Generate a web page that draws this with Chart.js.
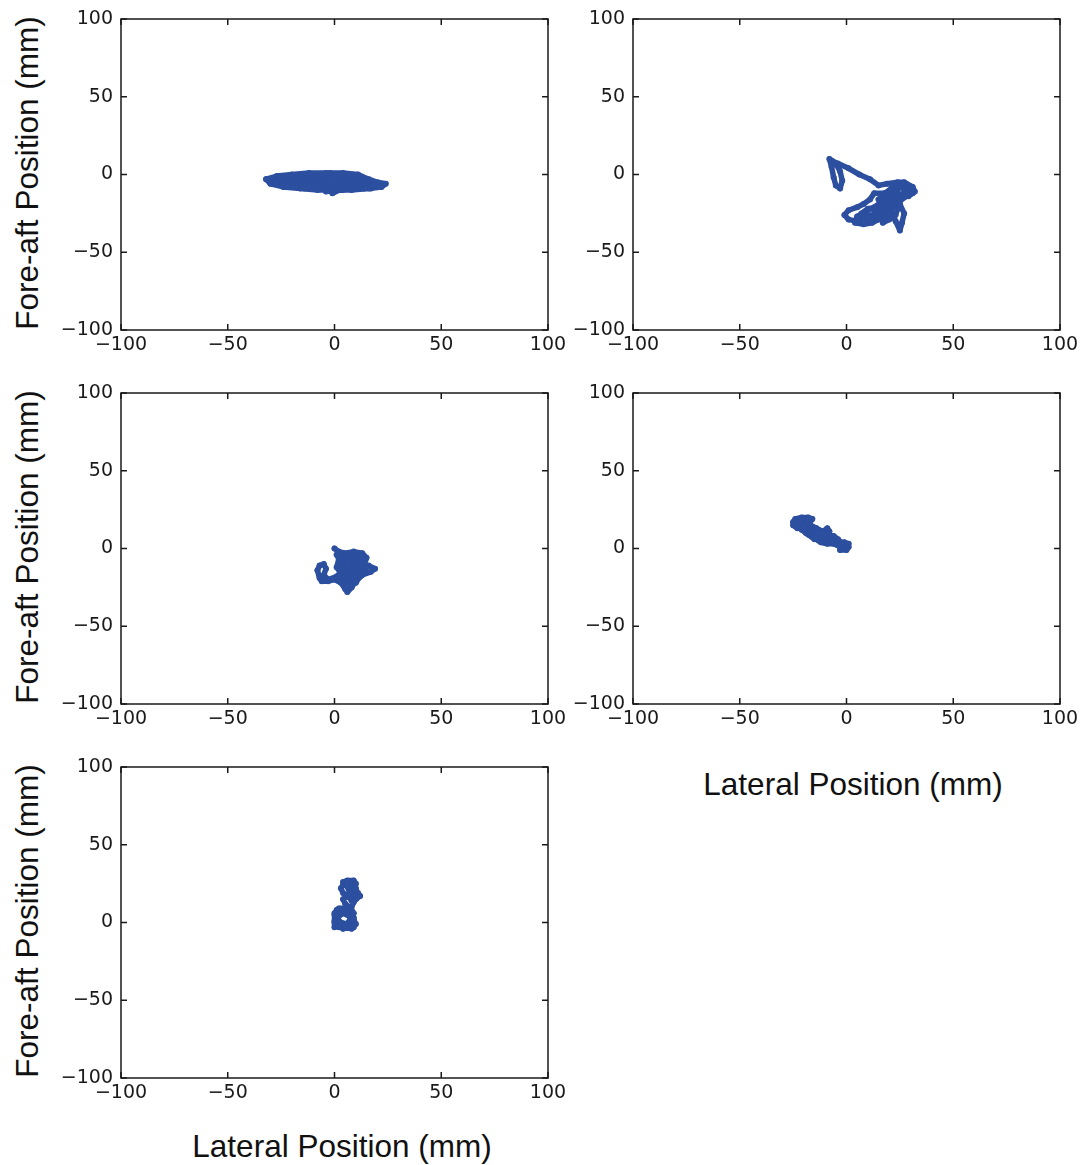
<!DOCTYPE html>
<html>
<head>
<meta charset="utf-8">
<script src="https://cdn.jsdelivr.net/npm/chart.js@4.4.1/dist/chart.umd.min.js"></script>
<style>
  body { margin: 0; background: #fff; width: 1084px; height: 1165px; position: relative; overflow: hidden; }
  canvas.panel { position: absolute; }
  .axlabel { position: absolute; font-family: "Liberation Sans", Arial, sans-serif; font-size: 31.5px; color: #111; white-space: nowrap; }
</style>
</head>
<body>
<script>
// tick values shared by both axes of every panel
const tickValues = [-100, -50, 0, 50, 100];

// panel 1 (top left)
const p1X = [-32,-27,-20,-12,-4,4,11,16,20,24,22,16,8,0,-8,-16,-24,-30,-32,-24,-16,-10,-4,2,8,13,6,-2,-1,4,10,17,21,14,6,-2,-10,-18,-25,-18,-10,-2,6,12,16,10,2,-6,-14,-6,2,10,15,8,0,-4,3,9,14,19,12,4,-3,-10,-18,-26,-30,-22,-14,-6,2,8,14,18,12,4,-4,-12,-20];
const p1Y = [-3,-1,0,1,1,1,0,-3,-5,-6,-8,-9,-10,-10,-10,-9,-8,-6,-3,-4,-6,-6,-3,-1,-2,-6,-7,-7,-12,-9,-9,-9,-8,-5,-4,-5,-8,-8,-5,-2,0,1,0,-2,-6,-8,-6,-4,-3,-1,0,-2,-5,-7,-8,-11,-10,-8,-9,-7,-3,-1,-2,-4,-3,-2,-4,-7,-9,-9,-6,-5,-4,-7,-9,-10,-8,-6,-5];

// panel 2 (top right)
const p2X = [-8,-7,-6,-5,-3,-2,-3,-5,-7,-4, 1,6,11,15,19,24,27,31,32,29, 24,18,13,11,8,5,1,-1,1,5, 8,11,13,16,19,22,25,27,26,25, 23,21,18,15,12,8,4,5,9,13, 16,19,22,26,28,25,22,19,16,13, 17,21,24,23,20,17,20,18,15,18, 21,24,27,30,27,23,20,17,14,10, 7,10,14,18,22,25,28,31];
const p2Y = [10,5,-2,-7,-9,-4,2,7,9,7, 4,0,-3,-7,-6,-5,-5,-8,-11,-14, -13,-12,-12,-16,-19,-21,-23,-26,-29,-30, -28,-29,-25,-22,-19,-16,-19,-25,-31,-36, -30,-24,-27,-29,-31,-32,-31,-27,-24,-21, -18,-14,-11,-8,-10,-14,-18,-22,-25,-27, -23,-20,-22,-26,-29,-31,-25,-20,-16,-12, -9,-7,-9,-11,-13,-12,-15,-18,-21,-22, -25,-27,-25,-23,-21,-17,-14,-12];

// panel 3 (middle left)
const p3X = [0,2,5,9,13,15,14,12,16,19, 17,13,10,8,6,5,3,0,-3,-6, -7,-8,-7,-5,-4,-5,-3,1,4,3, 1,5,9,11,8,5,3,7,11,14, 12,8,4,6,9,12,10,6,2,4, 8,13,15,11,7,2,1,3,7,10, 13,10,5];
const p3Y = [0,-2,-3,-2,-3,-6,-10,-12,-11,-13, -15,-17,-21,-25,-28,-26,-22,-20,-21,-21, -19,-14,-11,-10,-13,-17,-20,-18,-14,-9, -4,-5,-6,-9,-12,-15,-18,-20,-17,-13, -8,-5,-8,-11,-14,-18,-22,-23,-18,-13, -9,-8,-12,-16,-10,-7,-12,-16,-17,-13, -5,-3,-6];

// panel 4 (middle right)
const p4X = [-25,-24,-21,-18,-16,-17,-20,-23,-25,-23, -20,-18,-16,-18,-21,-19,-16,-13,-11,-9, -8,-10,-13,-16,-18,-15,-12,-9,-6,-8, -11,-13,-10,-7,-4,-1,1,0,-2,-3, 0,1,-2,-4,-6,-9,-12,-14,-17,-20, -22,-19,-17,-14,-12,-9,-6,-4,-2];
const p4Y = [17,19,20,20,19,17,16,15,15,13, 14,16,14,12,12,10,11,12,11,13, 11,9,9,8,9,6,6,7,6,4, 4,5,7,5,4,4,3,1,0,-1, -1,1,2,2,3,3,4,7,10,13, 17,18,15,13,10,9,8,6,3];

// panel 5 (bottom left)
const p5X = [0,0,0,1,3,5,7,9,9,9, 8,6,4,2,1,2,4,7,8,6, 3,1,0,2,5,8,9,7,5,4, 6,4,3,4,4,6,9,10,8,9, 11,12,10,8,7,9,7,6,8,10, 11,9,8,6,3,1,0,2,5,7, 9,10,8];
const p5Y = [-3,1,5,8,9,8,6,3,0,-3, -4,-3,-4,-2,1,4,6,4,1,-1, 0,3,6,9,9,8,6,10,12,15, 17,19,22,24,26,27,27,25,23,21, 19,17,15,14,16,18,20,23,25,22, 17,13,10,8,7,4,0,-3,-2,1, 2,-1,-3];

const xLabel = "Lateral Position (mm)";
const yLabel = "Fore-aft Position (mm)";

// layout: plot-area corner of each panel on the page
const panels = [
  { xs: p1X, ys: p1Y, left: 121, top: 17 },
  { xs: p2X, ys: p2Y, left: 633, top: 17 },
  { xs: p3X, ys: p3Y, left: 121, top: 391 },
  { xs: p4X, ys: p4Y, left: 633, top: 391 },
  { xs: p5X, ys: p5Y, left: 121, top: 765 },
];
const plotW = 427, plotH = 311;
const padL = 75, padT = 15, padR = 30, padB = 40;
const lineColor = "#2c4f9f";
const inkColor = "#1a1a1a";

function fmt(v) {
  return v < 0 ? "\u2212" + Math.abs(v) : String(v);
}

// box around the plot with inward ticks on all four sides
const framePlugin = {
  id: "frame",
  afterDraw(chart) {
    const { ctx, chartArea: a, scales: { x, y } } = chart;
    ctx.save();
    ctx.strokeStyle = inkColor;
    ctx.lineWidth = 1.5;
    ctx.strokeRect(a.left, a.top, a.right - a.left, a.bottom - a.top);
    ctx.beginPath();
    tickValues.forEach((v) => {
      const px = x.getPixelForValue(v);
      ctx.moveTo(px, a.bottom); ctx.lineTo(px, a.bottom - 6);
      ctx.moveTo(px, a.top); ctx.lineTo(px, a.top + 6);
      const py = y.getPixelForValue(v);
      ctx.moveTo(a.left, py); ctx.lineTo(a.left + 6, py);
      ctx.moveTo(a.right, py); ctx.lineTo(a.right - 6, py);
    });
    ctx.stroke();
    ctx.restore();
  },
};

const tickFont = { family: "'DejaVu Sans', sans-serif", size: 19 };

// keep the plot area fixed: no extra room for half-labels at the ends
function fixScale(s, key, size) {
  s[key] = size;
  s.paddingTop = 0; s.paddingBottom = 0;
  s.paddingLeft = 0; s.paddingRight = 0;
}

panels.forEach((p) => {
  const canvas = document.createElement("canvas");
  canvas.className = "panel";
  canvas.width = padL + plotW + padR;
  canvas.height = padT + plotH + padB;
  canvas.style.left = (p.left - padL) + "px";
  canvas.style.top = (p.top - padT + 2) + "px";
  document.body.appendChild(canvas);

  new Chart(canvas, {
    type: "scatter",
    data: {
      datasets: [{
        data: p.xs.map((x, i) => ({ x: x, y: p.ys[i] })),
        showLine: true,
        borderColor: lineColor,
        backgroundColor: lineColor,
        borderWidth: 5.5,
        borderJoinStyle: "round",
        borderCapStyle: "round",
        pointRadius: 3,
        pointBorderWidth: 0,
        tension: 0,
      }],
    },
    options: {
      responsive: false,
      animation: false,
      devicePixelRatio: 1,
      layout: { padding: { left: 0, top: padT, right: padR, bottom: 0 } },
      plugins: { legend: { display: false }, tooltip: { enabled: false } },
      scales: {
        x: {
          type: "linear", min: -100, max: 100,
          afterBuildTicks: (s) => { s.ticks = tickValues.map((v) => ({ value: v })); },
          afterFit: (s) => fixScale(s, "height", padB),
          grid: { display: false, drawTicks: false },
          border: { display: false },
          ticks: { font: tickFont, color: inkColor, padding: 4, maxRotation: 0, autoSkip: false, callback: fmt },
        },
        y: {
          type: "linear", min: -100, max: 100,
          afterBuildTicks: (s) => { s.ticks = tickValues.map((v) => ({ value: v })); },
          afterFit: (s) => fixScale(s, "width", padL),
          grid: { display: false, drawTicks: false },
          border: { display: false },
          ticks: { font: tickFont, color: inkColor, padding: 8, autoSkip: false, callback: fmt },
        },
      },
    },
    plugins: [framePlugin],
  });

  if (p.left < 300) {
    const yl = document.createElement("div");
    yl.className = "axlabel";
    yl.textContent = yLabel;
    yl.style.left = "27px";
    yl.style.top = (p.top + plotH / 2) + "px";
    yl.style.transform = "translate(-50%, -50%) rotate(-90deg)";
    document.body.appendChild(yl);
  }
});

[[853, 784], [342, 1146]].forEach(([cx, cy]) => {
  const d = document.createElement("div");
  d.className = "axlabel";
  d.textContent = xLabel;
  d.style.left = cx + "px";
  d.style.top = cy + "px";
  d.style.transform = "translate(-50%, -50%)";
  document.body.appendChild(d);
});
</script>
</body>
</html>
